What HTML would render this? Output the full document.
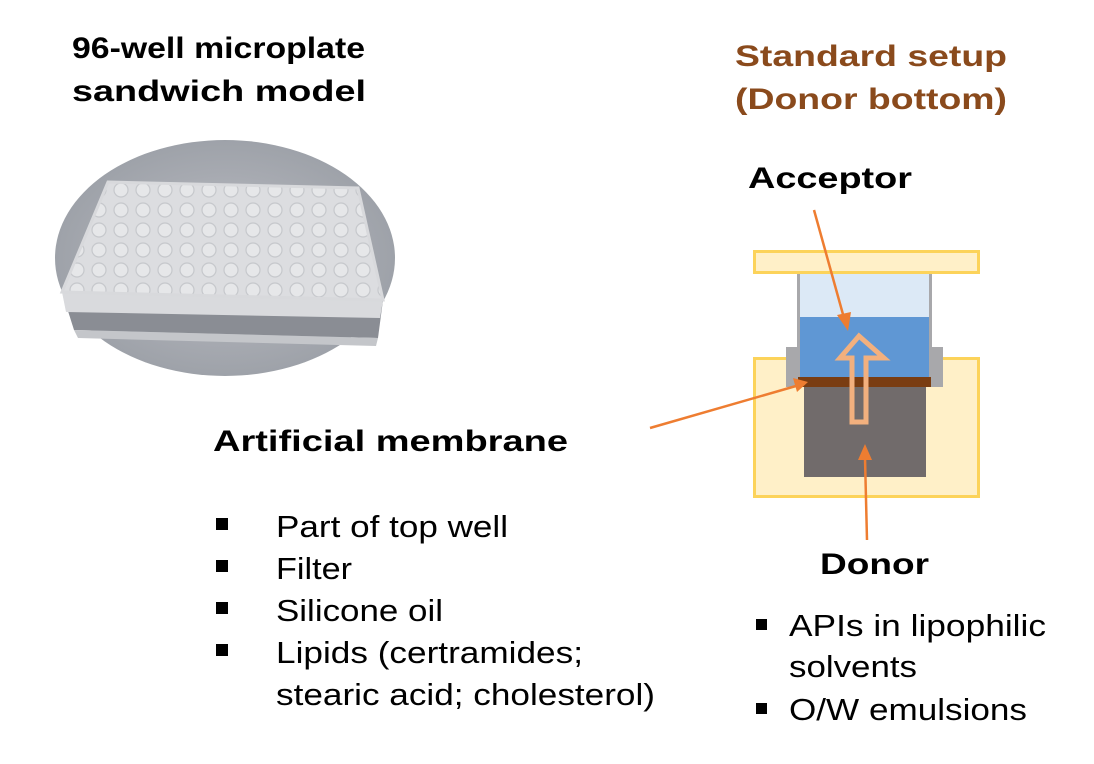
<!DOCTYPE html>
<html><head><meta charset="utf-8"><style>
html,body{margin:0;padding:0;background:#fff;}
svg{display:block;}
text{font-family:"Liberation Sans",Arial,sans-serif;}
</style></head><body>
<svg width="1094" height="764" viewBox="0 0 1094 764" xmlns="http://www.w3.org/2000/svg">
<defs>
<radialGradient id="bg" cx="0.5" cy="0.5" r="0.5">
<stop offset="0" stop-color="#c4c6cb"/><stop offset="0.7" stop-color="#a7aab1"/><stop offset="1" stop-color="#9ea2a9"/>
</radialGradient>
<pattern id="wells" x="0" y="0" width="22" height="20" patternUnits="userSpaceOnUse">
<rect width="22" height="20" fill="#dcdde0"/><circle cx="11" cy="10" r="7" fill="#e6e7e9" stroke="#c6c8cc" stroke-width="1.2"/>
</pattern>
</defs>
<g font-weight="bold" font-size="30" fill="#000">
<text x="72" y="58" textLength="293" lengthAdjust="spacingAndGlyphs">96-well microplate</text>
<text x="72" y="101" textLength="294" lengthAdjust="spacingAndGlyphs">sandwich model</text>
<text x="735" y="66" fill="#8a4a1c" textLength="272" lengthAdjust="spacingAndGlyphs">Standard setup</text>
<text x="735" y="109" fill="#8a4a1c" textLength="272" lengthAdjust="spacingAndGlyphs">(Donor bottom)</text>
<text x="748" y="188" textLength="164" lengthAdjust="spacingAndGlyphs">Acceptor</text>
<text x="213" y="451" textLength="355" lengthAdjust="spacingAndGlyphs">Artificial membrane</text>
<text x="820" y="574" textLength="109" lengthAdjust="spacingAndGlyphs">Donor</text>
</g>
<!-- photo -->
<ellipse cx="225" cy="258" rx="170" ry="118" fill="url(#bg)"/>
<polygon points="62,292 383,300 378,338 74,330" fill="#8a8d94"/>
<polygon points="62,292 383,300 380,318 66,312" fill="#d9dadd"/>
<polygon points="108,182 358,188 383,300 62,292" fill="url(#wells)" stroke="#d8d9dc" stroke-width="3"/>
<polygon points="74,330 378,338 376,346 78,338" fill="#c4c6ca"/>
<!-- bullets -->
<g fill="#000">
<rect x="216" y="518" width="12" height="12"/><rect x="216" y="560" width="12" height="12"/>
<rect x="216" y="602" width="12" height="12"/><rect x="216" y="644" width="12" height="12"/>
<rect x="756" y="619" width="11" height="11"/><rect x="756" y="703" width="11" height="11"/>
</g>
<g font-size="31" fill="#000">
<text x="276" y="537" textLength="232" lengthAdjust="spacingAndGlyphs">Part of top well</text>
<text x="276" y="579" textLength="76" lengthAdjust="spacingAndGlyphs">Filter</text>
<text x="276" y="621" textLength="167" lengthAdjust="spacingAndGlyphs">Silicone oil</text>
<text x="276" y="663" textLength="307" lengthAdjust="spacingAndGlyphs">Lipids (certramides;</text>
<text x="276" y="705" textLength="379" lengthAdjust="spacingAndGlyphs">stearic acid; cholesterol)</text>
<text x="789" y="636" textLength="257" lengthAdjust="spacingAndGlyphs">APIs in lipophilic</text>
<text x="789" y="677" textLength="128" lengthAdjust="spacingAndGlyphs">solvents</text>
<text x="789" y="720" textLength="238" lengthAdjust="spacingAndGlyphs">O/W emulsions</text>
</g>
<!-- diagram -->
<rect x="754.5" y="358.5" width="224" height="138" fill="#fff0c8" stroke="#fcd35a" stroke-width="3"/>
<rect x="754.5" y="251.5" width="224" height="21" fill="#fff0c8" stroke="#fcd35a" stroke-width="3"/>
<rect x="786" y="347" width="13" height="40" fill="#a8a8ab"/>
<rect x="930" y="347" width="13" height="40" fill="#a8a8ab"/>
<rect x="797" y="274" width="3" height="104" fill="#a8a8ab"/>
<rect x="929" y="274" width="3" height="104" fill="#a8a8ab"/>
<rect x="800" y="274" width="129" height="44" fill="#dce9f6"/>
<rect x="800" y="317" width="129" height="61" fill="#5f97d4"/>
<rect x="798" y="377" width="133" height="10" fill="#7a3d12"/>
<rect x="804" y="387" width="122" height="90" fill="#716b6b"/>
<polygon points="852,422 866,422 866,358 884,358 859,336 840,358 852,358" fill="none" stroke="#f2b07e" stroke-width="5" stroke-linejoin="miter"/>
<!-- arrows -->
<g stroke="#ee7d31" stroke-width="2.5" fill="#ee7d31">
<line x1="814" y1="210" x2="844" y2="318"/>
<polygon points="848,331 837,315 851,312" stroke="none"/>
<line x1="650" y1="428" x2="796" y2="386"/>
<polygon points="808,382 793,378 797,392" stroke="none"/>
<line x1="867" y1="540" x2="865" y2="458"/>
<polygon points="865,444 858,460 872,460" stroke="none"/>
</g>
</svg>
</body></html>
